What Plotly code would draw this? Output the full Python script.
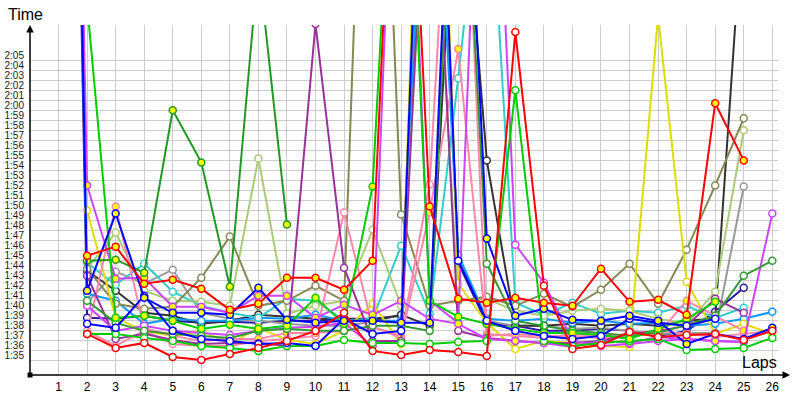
import plotly.graph_objects as go

laps = list(range(1, 27))
tick_secs = list(range(95, 126))
tick_text = [f"{s // 60}:{s % 60:02d}" for s in tick_secs]

# lap times in seconds, laps 1..26 (None = no lap)
red_y = [None, 105.5, 106.4, 102.7, 103.1, 102.2, 100.1, 100.7, 103.3, 103.3, 102.1, 105.0, 168.0, 110.4, 101.2, 100.8, 101.3, 100.8, 100.5, 104.2, 100.9, 101.1, 99.6, 120.7, 115.0, None]
red_w = [None, 97.7, 96.3, 96.8, 95.4, 95.1, 95.7, 96.3, 97.0, 98.0, 99.8, 96.0, 95.6, 96.1, 95.9, 95.5, 127.8, 102.5, 96.2, 96.6, 97.9, 97.4, 97.6, 97.7, 97.1, 98.0]
blue_y = [260, 102.0, 109.7, 101.3, 99.8, 99.8, 99.6, 102.3, 99.1, 98.8, 99.0, 99.0, 98.8, 98.8, 166, 107.2, 99.5, 100.2, 99.1, 99.0, 99.5, 99.0, 96.7, 97.7, 97.2, 98.3]
blue_w = [None, 98.7, 98.3, 101.5, 98.0, 97.2, 97.0, 96.7, 96.8, 96.5, 99.2, 97.7, 98.0, 175, 105.0, 99.0, 98.0, 97.5, 97.2, 97.5, 99.2, 98.8, 98.5, 99.2, None, None]
green_y = [None, 130.6, 99.3, 99.5, 99.0, 98.2, 98.6, 98.2, 98.5, 101.3, 98.7, 112.4, 165, 101.0, 99.4, 98.7, 98.2, 97.8, 97.8, 97.6, 97.2, 98.2, 99.2, 100.9, None, None]
green_w = [None, 97.7, 97.7, 97.3, 97.0, 96.5, 96.3, 96.0, 96.5, 96.5, 97.1, 96.8, 96.8, 96.7, 96.9, 97.0, 122.0, 97.0, 96.5, 96.8, 97.0, 97.2, 96.1, 96.2, 96.3, 97.3]
dkgreen_y = [None, 105.0, 105.1, 103.8, 120.0, 114.8, 102.4, 134.7, 108.6, None, None, None, None, None, None, None, None, None, None, None, None, None, None, None, None, None]
dkgreen_w = [None, 101.0, 98.8, 98.0, 97.7, 97.5, 97.3, 98.0, 98.2, 98.0, 98.0, 98.5, 98.5, 98.0, 158, 104.7, 99.0, 98.5, 98.0, 97.8, 97.5, 97.8, 98.6, 99.5, 103.5, 105.0]
magenta_y = [250, 112.5, 103.2, 103.3, 100.4, 100.4, 99.8, 101.5, 101.5, 99.3, 100.6, 99.6, 101.0, 99.2, 98.7, 97.2, 97.0, 96.8, 96.4, 97.0, 96.8, 97.4, 97.2, 97.0, 96.9, None]
magenta_w = [None, 100.5, 98.0, 98.5, 98.0, 97.8, 97.6, 98.0, 98.3, 98.4, 98.8, 96.5, 170, 101.0, 98.8, 170, 106.6, 102.8, 97.0, 96.5, 96.7, 97.0, 97.2, 97.0, 96.9, 109.7]
purple_w = [None, 103.5, 97.2, 97.7, 97.1, 96.7, 96.8, 96.8, 96.5, 128.6, 104.3, 97.0, 97.0, 155, 98.0, 97.3, 97.0, 96.8, 96.8, 97.0, 97.7, 98.0, 98.5, 101.2, 99.8, None]
pink_y = [None, 97.7, 110.4, 98.3, 97.5, 97.0, 97.2, 97.2, 97.8, 97.8, 98.0, 98.4, 97.3, 109.8, 126.1, 97.5, 97.7, 97.5, 97.5, 97.3, 97.5, 97.7, 101.0, 99.5, 98.0, None]
pink_w = [None, 98.0, 96.5, 98.0, 96.7, 96.5, 96.5, 97.0, 97.2, 97.5, 109.8, 98.4, 97.5, 112.6, 162, 97.7, 97.5, 97.3, 97.7, 97.5, 97.7, 98.0, 97.7, 97.4, 97.7, 98.0]
olive_w = [None, 104.2, 100.7, 100.2, 100.4, 103.3, 107.4, 100.5, 101.0, 102.5, 101.0, 180, 109.6, 100.5, 101.0, 101.4, 100.5, 101.7, 100.4, 102.1, 104.7, 100.7, 106.1, 112.5, 119.2, None]
ltolive_w = [None, 104.2, 107.8, 102.0, 101.0, 100.9, 100.5, 115.2, 99.7, 100.5, 101.0, 108.1, 100.5, 150, 101.0, 101.2, 100.0, 99.5, 100.0, 100.2, 100.0, 99.2, 98.7, 101.9, 118.0, None]
yellow_w = [None, 110.0, 99.3, 98.0, 97.5, 98.0, 96.7, 98.3, 97.1, 96.7, 98.0, 100.7, 96.7, 185, 102.7, 98.8, 96.2, 97.0, 96.8, 96.5, 96.4, 129.4, 102.9, 97.7, 98.7, 97.7]
cyan_w = [None, 104.8, 102.6, 104.7, 101.9, 100.5, 99.8, 99.3, 101.2, 101.0, 99.0, 99.2, 106.5, 99.7, 123.2, 149.3, 100.8, 99.6, 100.8, 99.7, 100.0, 99.8, 100.5, 99.3, 100.3, None]
dodger_w = [260, 101.7, 101.0, 98.7, 99.2, 99.0, 99.0, 99.3, 99.2, 99.6, 99.0, 99.0, 99.0, 160, 105.6, 99.2, 99.0, 99.2, 98.8, 99.0, 98.7, 98.8, 98.5, 98.7, 99.2, 99.9]
gray_w = [None, 100.8, 103.9, 102.7, 104.1, 99.8, 99.2, 99.0, 98.7, 98.5, 98.5, 98.9, 99.6, 168, 105.2, 99.0, 98.5, 98.5, 98.2, 98.3, 98.0, 97.7, 97.8, 97.8, 112.4, None]
black_w = [None, 104.0, 102.0, 99.8, 99.5, 98.7, 99.0, 99.6, 99.4, 99.2, 99.2, 99.0, 99.6, 98.5, 150, 115.0, 98.5, 98.5, 98.7, 98.5, 98.7, 98.5, 99.0, 99.2, 141, None]
navy_w = [250, 99.3, 99.2, 99.5, 99.0, 98.8, 98.9, 98.8, 99.0, 99.0, 99.2, 99.2, 99.5, 172, 104.8, 98.7, 98.5, 98.0, 98.0, 98.2, 98.0, 97.5, 98.0, 99.9, 102.3, None]

YEL = "#ffff00"
WHT = "#ffffff"
series = [
    (navy_w, "#2a1aa0", WHT),
    (gray_w, "#999999", WHT),
    (black_w, "#333333", WHT),
    (dodger_w, "#1199ff", WHT),
    (cyan_w, "#33cccc", WHT),
    (ltolive_w, "#aacc77", WHT),
    (olive_w, "#888855", WHT),
    (yellow_w, "#dddd00", WHT),
    (pink_w, "#ff88aa", WHT),
    (pink_y, "#ff88aa", YEL),
    (purple_w, "#993399", WHT),
    (magenta_w, "#cc44ff", WHT),
    (magenta_y, "#cc44ff", YEL),
    (dkgreen_w, "#339933", WHT),
    (dkgreen_y, "#229922", YEL),
    (green_w, "#00cc00", WHT),
    (green_y, "#00cc00", YEL),
    (blue_w, "#0000ff", WHT),
    (blue_y, "#0000ff", YEL),
    (red_w, "#ff0000", WHT),
    (red_y, "#ff0000", YEL),
]

fig = go.Figure()
for vals, col, fill in series:
    fig.add_trace(go.Scatter(
        x=laps, y=vals, mode="lines+markers",
        line=dict(color=col, width=2),
        marker=dict(symbol="circle", size=7, color=fill, line=dict(color=col, width=1.5)),
        connectgaps=False, hoverinfo="skip",
    ))

fig.update_layout(
    width=800, height=400,
    margin=dict(l=30, r=22, t=25, b=25),
    plot_bgcolor="white", paper_bgcolor="white",
    showlegend=False,
    font=dict(family="Liberation Sans", size=11, color="#111"),
)
fig.update_xaxes(
    range=[0, 26.2], tickvals=laps, ticktext=[str(l) for l in laps],
    showgrid=True, gridcolor="#cccccc", gridwidth=1,
    zeroline=False, showline=False, ticks="", automargin=False,
    ticklabelstandoff=3,
    tickfont=dict(size=12, color="#000"),
)
fig.update_yaxes(
    range=[93.6, 128.5], tickvals=tick_secs, ticktext=tick_text,
    showgrid=True, gridcolor="#cccccc", gridwidth=1,
    zeroline=False, showline=False, ticks="", automargin=False,
    ticklabelposition="outside", ticklabelshift=-5, ticklabelstandoff=5,
    tickfont=dict(size=10, color="#1a1a1a"),
)

# axis lines with arrowheads
fig.add_annotation(x=0, y=1, xref="paper", yref="paper", ax=0, ay=350, text="",
                   showarrow=True, arrowhead=2, arrowsize=1, arrowwidth=1.5, arrowcolor="#000", standoff=0)
fig.add_annotation(x=(790 - 30) / 748, y=0, xref="paper", yref="paper", ax=-760, ay=0, text="",
                   showarrow=True, arrowhead=2, arrowsize=1, arrowwidth=1.5, arrowcolor="#000", standoff=0)
fig.add_shape(type="rect", xref="paper", yref="paper", xsizemode="pixel", ysizemode="pixel",
              xanchor=0, yanchor=0, x0=-2.5, x1=2.5, y0=-2.5, y1=2.5,
              fillcolor="#000", line=dict(width=0))
fig.add_annotation(x=(25 - 30) / 748, y=(375 - 14) / 350, xref="paper", yref="paper", text="Time",
                   showarrow=False, font=dict(size=16, color="#000"), xanchor="center", yanchor="middle")
fig.add_annotation(x=(759 - 30) / 748, y=(375 - 362) / 350, xref="paper", yref="paper", text="Laps",
                   showarrow=False, font=dict(size=16, color="#000"), xanchor="center", yanchor="middle")

fig.write_html("out.html")
